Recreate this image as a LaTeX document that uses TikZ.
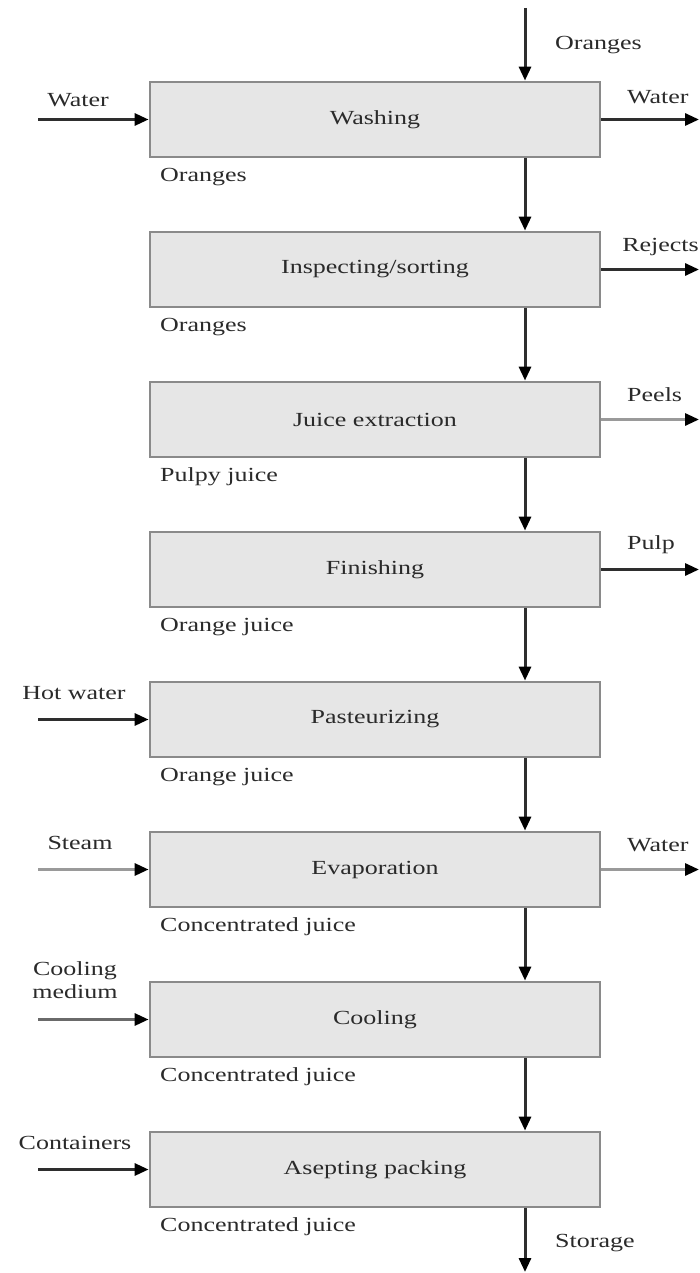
\documentclass[tikz,border=0pt]{standalone}
\usepackage{fontspec}
\setmainfont[FakeStretch=1.3]{Liberation Serif}
\usetikzlibrary{arrows.meta}
\definecolor{boxgray}{HTML}{8A8A8A}
\definecolor{boxfill}{HTML}{E6E6E6}
\definecolor{txt}{HTML}{2A2A2A}
\definecolor{darkln}{HTML}{2E2E2E}
\definecolor{midln}{HTML}{6A6A6A}
\definecolor{lightln}{HTML}{9A9A9A}
\begin{document}
\begin{tikzpicture}[x=1pt,y=-1pt,
  unit/.style={draw=boxgray, fill=boxfill, line width=2.8pt,
    minimum width=450pt, minimum height=75pt, inner sep=0pt,
    font=\fontsize{20}{24}\selectfont, text=txt},
  lbl/.style={font=\fontsize{20}{24}\selectfont, text=txt, inner sep=0pt},
  flow/.style={line width=3pt, draw=#1,
    -{Triangle[length=14pt,width=12pt,color=black]}},
  flow/.default=darkln]
\useasboundingbox (0,0) rectangle (700,1273);

% process steps
\node[unit] (wash)  at (375, 119.5) {Washing};
\node[unit] (sort)  at (375, 269.5) {Inspecting/sorting};
\node[unit] (extr)  at (375, 419.5) {Juice extraction};
\node[unit] (fin)   at (375, 569.5) {Finishing};
\node[unit] (past)  at (375, 719.5) {Pasteurizing};
\node[unit] (evap)  at (375, 869.5) {Evaporation};
\node[unit] (cool)  at (375,1019.5) {Cooling};
\node[unit] (pack)  at (375,1169.5) {Asepting packing};

% main product line
\coordinate (src)  at (525,8);
\coordinate (sink) at (525,1272);
\draw[flow] (src) -- (wash.north -| src);
\draw[flow] (wash.south -| src) -- (sort.north -| src);
\draw[flow] (sort.south -| src) -- (extr.north -| src);
\draw[flow] (extr.south -| src) -- (fin.north -| src);
\draw[flow] (fin.south -| src) -- (past.north -| src);
\draw[flow] (past.south -| src) -- (evap.north -| src);
\draw[flow] (evap.south -| src) -- (cool.north -| src);
\draw[flow] (cool.south -| src) -- (pack.north -| src);
\draw[flow] (pack.south -| src) -- (sink);

\node[lbl, anchor=west] (lorg) at (555,45) {Oranges};
\node[lbl, anchor=west] (lsto) at (555,1243) {Storage};

% stream names below each step
\node[lbl, anchor=west] (p1) at (160,177)  {Oranges};
\node[lbl, anchor=west] (p2) at (160,327)  {Oranges};
\node[lbl, anchor=west] (p3) at (160,477)  {Pulpy juice};
\node[lbl, anchor=west] (p4) at (160,627)  {Orange juice};
\node[lbl, anchor=west] (p5) at (160,777)  {Orange juice};
\node[lbl, anchor=west] (p6) at (160,927)  {Concentrated juice};
\node[lbl, anchor=west] (p7) at (160,1077) {Concentrated juice};
\node[lbl, anchor=west] (p8) at (160,1227) {Concentrated juice};

% inputs from the left
\coordinate (iwash) at (38,119.5);
\coordinate (ipast) at (38,719.5);
\coordinate (ievap) at (38,869.5);
\coordinate (icool) at (38,1019.5);
\coordinate (ipack) at (38,1169.5);
\draw[flow] (iwash) -- (wash.west);
\draw[flow] (ipast) -- (past.west);
\draw[flow=lightln] (ievap) -- (evap.west);
\draw[flow=midln] (icool) -- (cool.west);
\draw[flow] (ipack) -- (pack.west);

\node[lbl] (lw1) at (78,100) {Water};
\node[lbl] (lhw) at (74,693) {Hot water};
\node[lbl] (lst) at (80,843) {Steam};
\node[lbl, align=center] (lcm) at (75,980) {Cooling\\[-1pt]medium};
\node[lbl] (lct) at (75,1143) {Containers};

% outputs to the right
\coordinate (owash) at (699,119.5);
\coordinate (osort) at (699,269.5);
\coordinate (oextr) at (699,419.5);
\coordinate (ofin)  at (699,569.5);
\coordinate (oevap) at (699,869.5);
\draw[flow] (wash.east) -- (owash);
\draw[flow] (sort.east) -- (osort);
\draw[flow=lightln] (extr.east) -- (oextr);
\draw[flow] (fin.east) -- (ofin);
\draw[flow=lightln] (evap.east) -- (oevap);

\node[lbl, anchor=west] (lw2) at (627,97)  {Water};
\node[lbl, anchor=east] (lrj) at (699,247) {Rejects};
\node[lbl, anchor=west] (lpe) at (627,395) {Peels};
\node[lbl, anchor=west] (lpu) at (627,545) {Pulp};
\node[lbl, anchor=west] (lw3) at (627,845) {Water};
\end{tikzpicture}
\end{document}
